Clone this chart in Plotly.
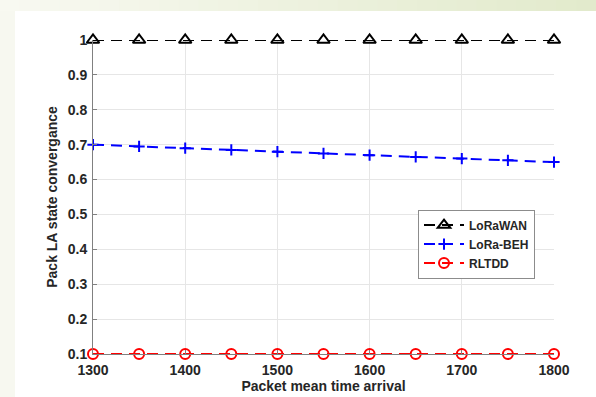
import plotly.graph_objects as go

x_vals = [1300, 1350, 1400, 1450, 1500, 1550, 1600, 1650, 1700, 1750, 1800]
lorawan = [1, 1, 1, 1, 1, 1, 1, 1, 1, 1, 1]
lora_beh = [0.70, 0.695, 0.69, 0.685, 0.68, 0.675, 0.67, 0.665, 0.66, 0.655, 0.65]
rltdd = [0.1, 0.1, 0.1, 0.1, 0.1, 0.1, 0.1, 0.1, 0.1, 0.1, 0.1]

series = [
    ("LoRaWAN", lorawan, "black", "triangle-up-open", 11, 2),
    ("LoRa-BEH", lora_beh, "blue", "cross-thin-open", 8, 2),
    ("RLTDD", rltdd, "red", "circle-open", 10, 2),
]

fig = go.Figure()
for name, vals, color, sym, size, lw in series:
    fig.add_trace(go.Scatter(
        x=x_vals, y=vals, name=name, mode="lines+markers",
        line=dict(color=color, width=2, dash="11px,7px"),
        marker=dict(symbol=sym, size=size, color=color, line=dict(color=color, width=lw)),
        cliponaxis=False,
    ))

font_fam = "Liberation Sans, Arial, sans-serif"

W, H = 596, 397
l, r, t, b = 93, 42, 40, 43
pw, ph = W - l - r, H - t - b

def px2paper_x(px):
    return (px - l) / pw

def px2paper_y(py):
    return (H - b - py) / ph

shapes = []
shapes.append(dict(type="rect", xref="paper", yref="paper", layer="below",
                   x0=px2paper_x(0), x1=px2paper_x(15), y0=px2paper_y(H), y1=px2paper_y(0),
                   fillcolor="#f7f8f0", line=dict(width=0)))
n = 30
c0 = (248, 249, 241)
c1 = (226, 234, 204)
for i in range(n):
    f = i / (n - 1)
    c = tuple(int(round(c0[k] + (c1[k] - c0[k]) * f)) for k in range(3))
    shapes.append(dict(type="rect", xref="paper", yref="paper", layer="below",
                       x0=px2paper_x(W * i / n), x1=px2paper_x(W * (i + 1) / n + 1),
                       y0=px2paper_y(11), y1=px2paper_y(0),
                       fillcolor="rgb(%d,%d,%d)" % c, line=dict(width=0)))

fig.update_layout(
    width=W, height=H,
    margin=dict(l=l, r=r, t=t, b=b, autoexpand=False),
    paper_bgcolor="white", plot_bgcolor="white",
    font=dict(family=font_fam, size=13, color="#262626"),
    shapes=shapes,
    showlegend=True,
    legend=dict(
        x=0.705, y=0.46, xanchor="left", yanchor="top",
        bgcolor="white", bordercolor="#8c8c8c", borderwidth=1,
        font=dict(family=font_fam, size=12, color="#262626", weight="bold"),
        itemwidth=40, tracegroupgap=0,
    ),
    xaxis=dict(
        range=[1300, 1800], dtick=100, tick0=1300, automargin=False,
        showgrid=True, gridcolor="#e6e6e6", gridwidth=1,
        showline=True, linecolor="#808080", linewidth=1,
        ticks="inside", ticklen=4, tickcolor="#808080",
        zeroline=False, ticklabelstandoff=3,
        tickfont=dict(family=font_fam, size=14, color="#262626", weight="bold"),
        title=dict(text="<b>Packet mean time arrival</b>", standoff=4,
                   font=dict(family=font_fam, size=14, color="#262626")),
    ),
    yaxis=dict(
        range=[0.1, 1], dtick=0.1, tick0=0.1, automargin=False,
        showgrid=True, gridcolor="#e6e6e6", gridwidth=1,
        showline=True, linecolor="#808080", linewidth=1,
        ticks="inside", ticklen=4, tickcolor="#808080",
        zeroline=False, ticklabelstandoff=2,
        tickfont=dict(family=font_fam, size=14, color="#262626", weight="bold"),
        title=dict(text="<b>Pack LA state convergance</b>", standoff=6,
                   font=dict(family=font_fam, size=14, color="#262626")),
    ),
)

fig.write_html("out.html")
